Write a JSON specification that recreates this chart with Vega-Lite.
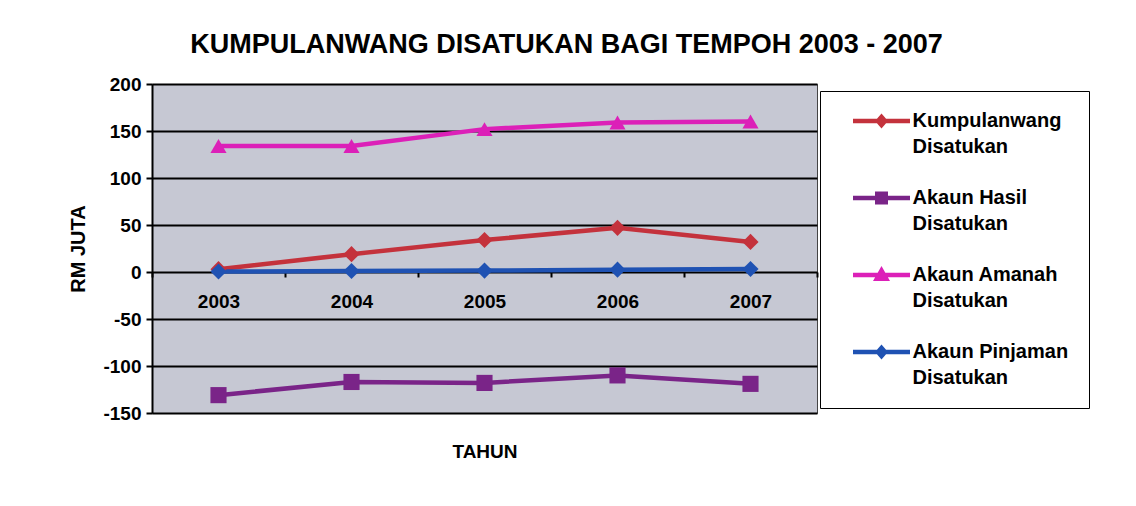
{
  "$schema": "https://vega.github.io/schema/vega-lite/v6.json",
  "autosize": {"type": "none"},
  "width": 665,
  "height": 329,
  "padding": {"left": 152, "top": 84, "right": 319, "bottom": 93},
  "background": "white",
  "title": {
    "text": "KUMPULANWANG DISATUKAN BAGI TEMPOH 2003 - 2007",
    "font": "Liberation Sans",
    "fontSize": 27,
    "fontWeight": "bold",
    "color": "black",
    "anchor": "middle",
    "dx": 82,
    "offset": 16
  },
  "config": {
    "view": {"fill": "#c6c8d3", "stroke": "#444", "strokeWidth": 1},
    "font": "Liberation Sans"
  },
  "data": {
    "values": [
      {"year": "2003", "series": "Kumpulanwang Disatukan", "value": 3},
      {"year": "2004", "series": "Kumpulanwang Disatukan", "value": 19},
      {"year": "2005", "series": "Kumpulanwang Disatukan", "value": 34},
      {"year": "2006", "series": "Kumpulanwang Disatukan", "value": 47},
      {"year": "2007", "series": "Kumpulanwang Disatukan", "value": 32},
      {"year": "2003", "series": "Akaun Hasil Disatukan", "value": -131},
      {"year": "2004", "series": "Akaun Hasil Disatukan", "value": -117},
      {"year": "2005", "series": "Akaun Hasil Disatukan", "value": -118},
      {"year": "2006", "series": "Akaun Hasil Disatukan", "value": -110},
      {"year": "2007", "series": "Akaun Hasil Disatukan", "value": -119},
      {"year": "2003", "series": "Akaun Amanah Disatukan", "value": 134},
      {"year": "2004", "series": "Akaun Amanah Disatukan", "value": 134},
      {"year": "2005", "series": "Akaun Amanah Disatukan", "value": 152},
      {"year": "2006", "series": "Akaun Amanah Disatukan", "value": 159},
      {"year": "2007", "series": "Akaun Amanah Disatukan", "value": 160},
      {"year": "2003", "series": "Akaun Pinjaman Disatukan", "value": 0.5},
      {"year": "2004", "series": "Akaun Pinjaman Disatukan", "value": 1},
      {"year": "2005", "series": "Akaun Pinjaman Disatukan", "value": 1.5},
      {"year": "2006", "series": "Akaun Pinjaman Disatukan", "value": 2.5},
      {"year": "2007", "series": "Akaun Pinjaman Disatukan", "value": 3.2}
    ]
  },
  "encoding": {
    "x": {
      "field": "year",
      "type": "ordinal",
      "scale": {"type": "band", "paddingInner": 0, "paddingOuter": 0},
      "axis": {
        "title": "TAHUN",
        "offset": -141,
        "titleY": 170,
        "titleFontSize": 19,
        "titleFontWeight": "bold",
        "titleColor": "black",
        "titleFont": "Liberation Sans",
        "labelAngle": 0,
        "labelFontSize": 19,
        "labelFontWeight": "bold",
        "labelColor": "black",
        "labelPadding": 15,
        "domain": false,
        "grid": false,
        "tickBand": "extent",
        "tickColor": "black",
        "tickSize": 5,
        "tickWidth": 2
      }
    },
    "y": {
      "field": "value",
      "type": "quantitative",
      "scale": {"domain": [-150, 200], "nice": false},
      "axis": {
        "title": "RM JUTA",
        "titleFontSize": 20,
        "titleFontWeight": "bold",
        "titleColor": "black",
        "titlePadding": 14,
        "values": [-150, -100, -50, 0, 50, 100, 150, 200],
        "labelExpr": "datum.value + ''",
        "labelFontSize": 19,
        "labelFontWeight": "bold",
        "labelColor": "black",
        "labelPadding": 5,
        "domainColor": "black",
        "domainWidth": 2,
        "tickColor": "black",
        "tickSize": 6,
        "tickWidth": 2,
        "gridColor": "black",
        "gridWidth": 2,
        "gridOpacity": 1
      }
    },
    "color": {
      "field": "series",
      "type": "nominal",
      "sort": ["Kumpulanwang Disatukan", "Akaun Hasil Disatukan", "Akaun Amanah Disatukan", "Akaun Pinjaman Disatukan"],
      "scale": {
        "domain": ["Kumpulanwang Disatukan", "Akaun Hasil Disatukan", "Akaun Amanah Disatukan", "Akaun Pinjaman Disatukan"],
        "range": ["#c4323c", "#7a2488", "#dc20b8", "#1f52b3"]
      },
      "legend": {
        "orient": "none",
        "legendX": 668,
        "legendY": 7,
        "title": null,
        "fillColor": "white",
        "strokeColor": "black",
        "padding": 20,
        "rowPadding": 31,
        "symbolSize": 100,
        "symbolOffset": 31.5,
        "symbolStrokeWidth": 0,
        "labelFont": "Liberation Sans",
        "labelFontSize": 20,
        "labelFontWeight": "bold",
        "labelColor": "black",
        "labelOffset": 21,
        "labelLimit": 300,
        "labelBaseline": "middle",
        "labelExpr": "[slice(datum.label, 0, lastindexof(datum.label, ' ')), slice(datum.label, lastindexof(datum.label, ' ') + 1)]",
        "encode": {
          "symbols": {
            "update": {
              "shape": {"signal": "datum.value === 'Akaun Hasil Disatukan' ? 'M-5.7,-0.45H5.7V0.45H-5.7Z M-1.3,-1.3H1.3V1.3H-1.3Z' : datum.value === 'Akaun Amanah Disatukan' ? 'M-5.7,-0.45H5.7V0.45H-5.7Z M0,-1.8L1.7,1.2H-1.7Z' : 'M-5.7,-0.45H5.7V0.45H-5.7Z M0,-1.5L1.3,0L0,1.5L-1.3,0Z'"},
              "fill": {"scale": "color", "field": "value"},
              "stroke": {"value": "transparent"},
              "strokeWidth": {"value": 0},
              "opacity": {"value": 1}
            }
          },
          "labels": {
            "update": {
              "lineHeight": {"value": 26}
            }
          }
        }
      }
    }
  },
  "layer": [
    {
      "mark": {"type": "line", "strokeWidth": 4.5}
    },
    {
      "mark": {"type": "point", "filled": true, "opacity": 1, "size": 260},
      "encoding": {
        "shape": {
          "field": "series",
          "type": "nominal",
          "sort": "ascending",
          "scale": {
            "range": ["triangle-up", "square", "diamond", "diamond"]
          },
          "legend": null
        }
      }
    }
  ]
}
